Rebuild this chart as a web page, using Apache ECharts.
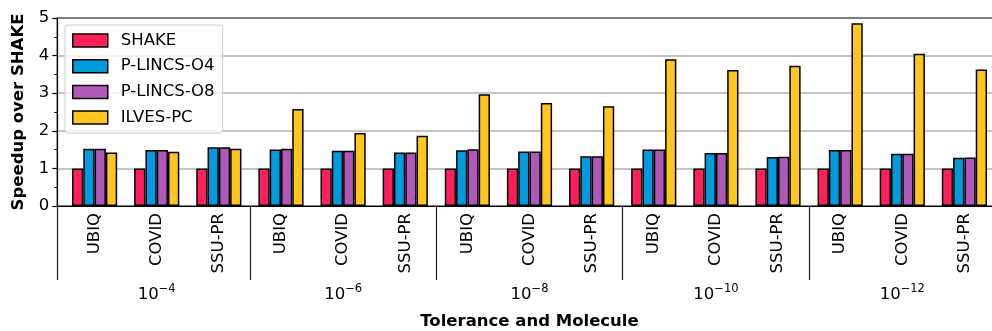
<!DOCTYPE html>
<html><head><meta charset="utf-8">
<script src="https://cdn.jsdelivr.net/npm/echarts@6/dist/echarts.min.js"></script>
<style>html,body{margin:0;padding:0;background:#fff}#c{width:992px;height:331px}</style>
</head><body><div id="c"></div>
<script>
const molecules = ['UBIQ','COVID','SSU-PR','UBIQ','COVID','SSU-PR','UBIQ','COVID','SSU-PR','UBIQ','COVID','SSU-PR','UBIQ','COVID','SSU-PR'];
const tolerances = ['−4','−6','−8','−10','−12'];
const seriesNames = ['SHAKE','P-LINCS-O4','P-LINCS-O8','ILVES-PC'];
const shake = [1,1,1, 1,1,1, 1,1,1, 1,1,1, 1,1,1];
const plincsO4 = [1.52,1.49,1.56, 1.50,1.47,1.42, 1.48,1.45,1.32, 1.50,1.41,1.30, 1.49,1.39,1.28];
const plincsO8 = [1.52,1.49,1.56, 1.52,1.47,1.42, 1.51,1.45,1.32, 1.50,1.41,1.31, 1.49,1.39,1.29];
const ilvesPC = [1.42,1.44,1.52, 2.58,1.94,1.87, 2.97,2.74,2.65, 3.90,3.62,3.73, 4.86,4.05,3.63];
const yTicks = [0,1,2,3,4,5];
const colors = ['#ff1f5b','#009ade','#af58ba','#ffc61e'];

const FONT = 'DejaVu Sans';
const FS = 16.5;
const allVals = [shake, plincsO4, plincsO8, ilvesPC];
const xMin = -0.6, xMax = 14.6;
const catPos = molecules.map((_, i) => i);
const groupPos = tolerances.map((_, g) => g * 3 + 1);
const sepPos = [xMin, 2.5, 5.5, 8.5, 11.5, 14.5];

const chart = echarts.init(document.getElementById('c'), null, {renderer: 'canvas'});
chart.setOption({
  animation: false,
  backgroundColor: '#fff',
  textStyle: {fontFamily: FONT},
  grid: {left: 57.3, top: 18, width: 944.4, height: 188, outerBoundsMode: 'none', containLabel: false,
         show: true, borderColor: '#000', borderWidth: 1.2, backgroundColor: 'transparent'},
  legend: {
    orient: 'vertical', left: 65, top: 25,
    itemWidth: 35, itemHeight: 13, itemGap: 8.7,
    padding: [7, 8, 7, 7],
    backgroundColor: 'rgba(255,255,255,0.8)', borderColor: '#cccccc', borderWidth: 1, borderRadius: 3,
    textStyle: {fontFamily: FONT, fontSize: FS, color: '#000', padding: [0, 0, 0, 8]},
    itemStyle: {borderColor: '#000', borderWidth: 1.5},
    icon: 'rect',
    data: seriesNames
  },
  xAxis: [{
    type: 'value', min: xMin, max: xMax, gridIndex: 0, position: 'bottom',
    axisLine: {show: true, onZero: false, lineStyle: {color: '#000', width: 1.2}},
    axisTick: {show: true, customValues: sepPos, length: 74, lineStyle: {color: '#222', width: 1.2}},
    axisLabel: {show: true, customValues: catPos, rotate: 90, margin: 7, fontFamily: FONT, fontSize: FS, color: '#000',
      formatter: v => molecules[Math.round(v)]},
    splitLine: {show: false}
  }, {
    type: 'value', min: xMin, max: xMax, gridIndex: 0, position: 'bottom',
    axisLine: {show: false, onZero: false}, axisTick: {show: false}, splitLine: {show: false},
    axisLabel: {show: true, customValues: groupPos, margin: 77, color: '#000',
      formatter: v => '{b|10}{s|' + tolerances[Math.round((v - 1) / 3)] + '}',
      rich: {b: {fontFamily: FONT, fontSize: FS, color: '#000', verticalAlign: 'bottom', lineHeight: 20},
             s: {fontFamily: FONT, fontSize: 11.5, color: '#000', verticalAlign: 'bottom', lineHeight: 20, padding: [0, 0, 8, 0]}}},
    name: 'Tolerance and Molecule', nameLocation: 'middle', nameGap: 107,
    nameTextStyle: {fontFamily: FONT, fontSize: FS, fontWeight: 'bold', color: '#000'}
  }],
  yAxis: {
    type: 'value', min: 0, max: 5, interval: 1,
    axisLine: {show: true, onZero: false, lineStyle: {color: '#000', width: 1.2}},
    axisTick: {show: true, length: 5, lineStyle: {color: '#000', width: 1.2}},
    minorTick: {show: true, splitNumber: 2, length: 3, lineStyle: {color: '#000', width: 1}},
    axisLabel: {margin: 8, fontFamily: FONT, fontSize: FS, color: '#000', formatter: v => yTicks.includes(v) ? String(v) : ''},
    splitLine: {show: true, showMinLine: false, showMaxLine: false, lineStyle: {color: '#b0b0b0', width: 1.6}},
    name: 'Speedup over SHAKE', nameLocation: 'middle', nameGap: 30,
    nameTextStyle: {fontFamily: FONT, fontSize: FS, fontWeight: 'bold', color: '#000'}
  },
  series: seriesNames.map((name, k) => ({
    name, type: 'bar', xAxisIndex: 0,
    barWidth: 11.3, barGap: '0%',
    itemStyle: {color: colors[k], borderColor: '#000', borderWidth: 1.5},
    data: allVals[k].map((v, i) => [i, v])
  }))
});
</script></body></html>
